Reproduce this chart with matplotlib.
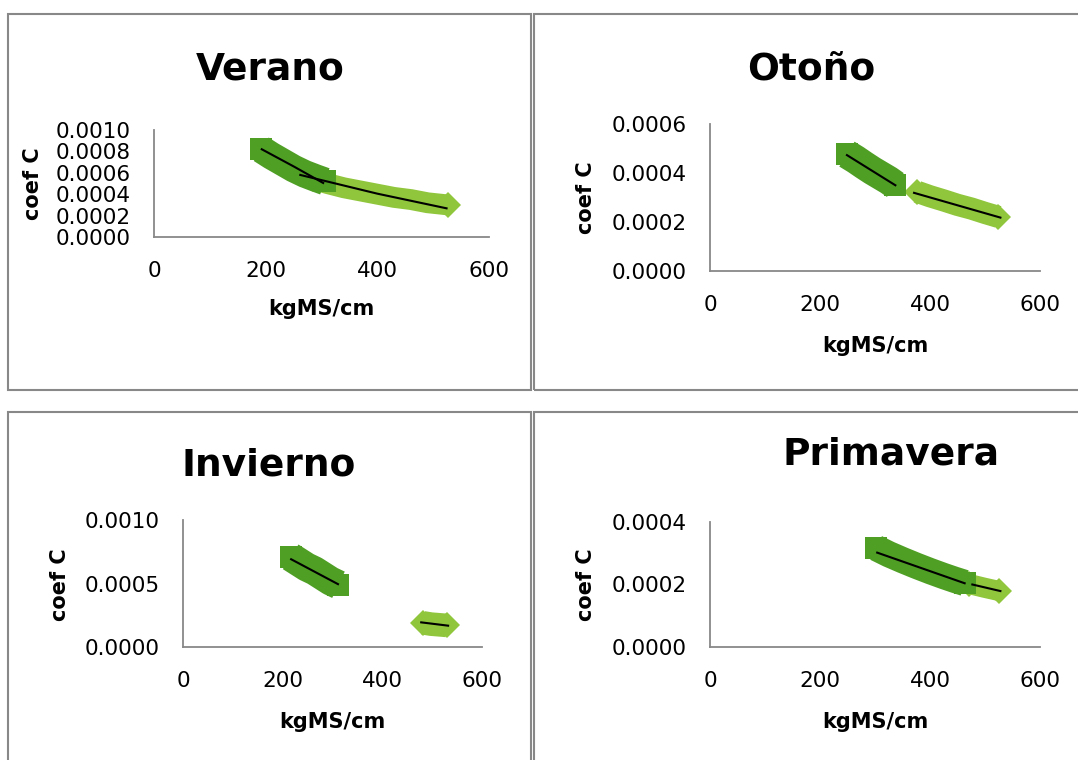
import matplotlib.pyplot as plt
from matplotlib.patches import Rectangle

plt.rcParams['font.family'] = ['DejaVu Sans']

W, H = 1078, 760
DARK = '#4F9F25'
LIGHT = '#8FC63C'
GREY = '#888888'

titles = ['Verano', 'Otoño', 'Invierno', 'Primavera']
x_ticks = [0, 200, 400, 600]
y_ticks = [
    [0.0, 0.0002, 0.0004, 0.0006, 0.0008, 0.0010],
    [0.0, 0.0002, 0.0004, 0.0006],
    [0.0, 0.0005, 0.0010],
    [0.0, 0.0002, 0.0004],
]

# dark green series (square markers)
verano_dark_x = [192, 210, 230, 250, 270, 290, 306]
verano_dark_y = [0.00082, 0.00076, 0.00070, 0.00064, 0.00059, 0.00055, 0.00052]
otono_dark_x = [249, 265, 280, 295, 310, 325, 337]
otono_dark_y = [0.000477, 0.000455, 0.000432, 0.00041, 0.00039, 0.00037, 0.000351]
invierno_dark_x = [216, 232, 248, 264, 280, 296, 312]
invierno_dark_y = [0.00071, 0.00067, 0.00063, 0.00060, 0.00056, 0.00052, 0.00049]
primavera_dark_x = [302, 325, 350, 375, 400, 425, 445, 463]
primavera_dark_y = [0.000317, 0.000297, 0.000278, 0.00026, 0.000243, 0.000227, 0.000215, 0.000205]

# light green series (diamond markers)
verano_light_x = [285, 310, 340, 370, 400, 430, 460, 490, 526]
verano_light_y = [0.00054, 0.00050, 0.00046, 0.00043, 0.00040, 0.00037, 0.00035, 0.00032, 0.00030]
otono_light_x = [377, 400, 425, 450, 475, 500, 524]
otono_light_y = [0.000323, 0.000305, 0.000288, 0.00027, 0.000255, 0.000237, 0.000221]
invierno_light_x = [482, 498, 514, 529]
invierno_light_y = [0.00019, 0.00018, 0.000175, 0.00017]
primavera_light_x = [470, 498, 526]
primavera_light_y = [0.000202, 0.00019, 0.000179]

# trend lines
verano_trend = [([193, 250, 303], [0.00082, 0.00066, 0.000505]),
                ([262, 400, 524], [0.00058, 0.000405, 0.000268])]
otono_trend = [([249, 337], [0.000473, 0.00035]),
               ([371, 528], [0.000319, 0.000218])]
invierno_trend = [([217, 311], [0.000691, 0.000495]),
                  ([478, 532], [0.000194, 0.000168])]
primavera_trend = [([304, 463], [0.000302, 0.000204]),
                   ([477, 528], [0.0002, 0.000179])]

dark = [(verano_dark_x, verano_dark_y), (otono_dark_x, otono_dark_y),
        (invierno_dark_x, invierno_dark_y), (primavera_dark_x, primavera_dark_y)]
light = [(verano_light_x, verano_light_y), (otono_light_x, otono_light_y),
         (invierno_light_x, invierno_light_y), (primavera_light_x, primavera_light_y)]
trends = [verano_trend, otono_trend, invierno_trend, primavera_trend]

# band widths (pt): steeper clouds of markers look thicker
dark_lw = [20, 21, 21, 19]
light_lw = [15, 16, 17, 14.5]

# layout in pixels: axes (left, right, top, bottom), panel box, title, labels
axes_px = [(154, 489, 130, 237), (710, 1040, 124, 271),
           (183, 482, 520, 647), (710, 1040, 522, 647)]
boxes_px = [(8, 531, 14, 390), (534, 1095, 14, 390),
            (8, 531, 412, 775), (534, 1095, 412, 775)]
title_px = [(270, 80), (811, 79), (269, 475), (891, 465)]
xlabel_px = [(321, 315), (875, 352), (332, 728), (875, 728)]
ylabel_px = [(33, 184), (586, 198), (60, 585), (586, 585)]


def fx(x):
    return x / W


def fy(y):
    return 1 - y / H


fig = plt.figure(figsize=(W / 100, H / 100), dpi=100)

for (l, r, t, b) in boxes_px:
    fig.patches.append(Rectangle((fx(l), fy(b)), fx(r - l), (b - t) / H,
                                 transform=fig.transFigure, fill=False,
                                 edgecolor=GREY, linewidth=1.5))

for i in range(4):
    l, r, t, b = axes_px[i]
    ax = fig.add_axes([fx(l), fy(b), (r - l) / W, (b - t) / H])

    # the dense marker clouds are drawn as a wide band with end markers
    lx, ly = light[i]
    ax.plot(lx, ly, color=LIGHT, linewidth=light_lw[i], solid_capstyle='butt',
            solid_joinstyle='round', marker='D', markersize=13,
            markevery=[0, len(lx) - 1], markeredgewidth=0,
            clip_on=False, zorder=2)
    dx, dy = dark[i]
    ax.plot(dx, dy, color=DARK, linewidth=dark_lw[i], solid_capstyle='butt',
            solid_joinstyle='round', marker='s', markersize=16.5,
            markevery=[0, len(dx) - 1], markeredgewidth=0,
            clip_on=False, zorder=3)
    for tx, ty in trends[i]:
        ax.plot(tx, ty, color='black', linewidth=1.5, zorder=4, clip_on=False)

    ax.set_xlim(0, 600)
    ax.set_ylim(0, y_ticks[i][-1])
    ax.set_xticks(x_ticks)
    ax.set_yticks(y_ticks[i])
    ax.set_yticklabels([f'{v:.4f}' for v in y_ticks[i]])
    ax.tick_params(length=0, labelsize=15.5, pad=17)
    for s in ['top', 'right']:
        ax.spines[s].set_visible(False)
    for s in ['left', 'bottom']:
        ax.spines[s].set_color(GREY)
        ax.spines[s].set_linewidth(1.3)

    tx_, ty_ = title_px[i]
    fig.text(fx(tx_), fy(ty_), titles[i], fontsize=27, fontweight='bold',
             ha='center', va='baseline')
    xx, xy = xlabel_px[i]
    fig.text(fx(xx), fy(xy), 'kgMS/cm', fontsize=15, fontweight='bold',
             ha='center', va='baseline')
    yx, yy = ylabel_px[i]
    fig.text(fx(yx), fy(yy), 'coef C', fontsize=15, fontweight='bold',
             ha='center', va='center', rotation=90)

fig.savefig('out.png', dpi=100)
